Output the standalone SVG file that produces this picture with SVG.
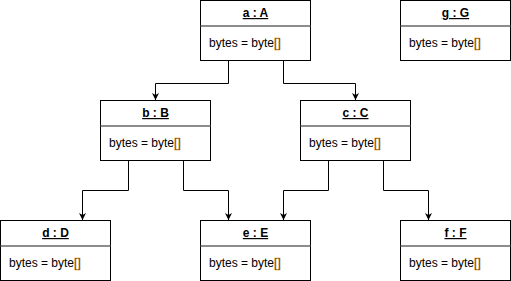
<svg xmlns="http://www.w3.org/2000/svg" width="511" height="281" viewBox="0 0 511 281">
<style>
.box{fill:#fff;stroke:#000;stroke-width:1}
.sep{stroke:#666;stroke-width:1.5}
.hdr{font-family:"Liberation Sans",Arial,sans-serif;font-size:12px;font-weight:bold;text-decoration:underline;text-anchor:middle;fill:#000}
.body{font-family:"Liberation Sans",Arial,sans-serif;font-size:12px;fill:#000}
.br{fill:#3a2200;stroke:#d98a00;stroke-width:0.4}
.edge{fill:none;stroke:#000;stroke-width:1}
</style>
<defs>
<marker id="arr" viewBox="0 0 10 10" refX="10" refY="5" markerWidth="7" markerHeight="7" markerUnits="userSpaceOnUse" orient="auto">
<path d="M0,0 L10,5 L0,10 L3,5 Z" fill="#000"/>
</marker>
</defs>
<g id="connectors">
<path class="edge" d="M228.5,60 V83.5 H155.5 V100" marker-end="url(#arr)"/>
<path class="edge" d="M283.5,60 V83.5 H355.5 V100" marker-end="url(#arr)"/>
<path class="edge" d="M128.5,160 V190.5 H82.5 V220" marker-end="url(#arr)"/>
<path class="edge" d="M183.5,160 V190.5 H228.5 V220" marker-end="url(#arr)"/>
<path class="edge" d="M328.5,160 V190.5 H283.5 V220" marker-end="url(#arr)"/>
<path class="edge" d="M383.5,160 V190.5 H428.5 V220" marker-end="url(#arr)"/>
</g>
<g id="a">
<rect class="box" x="200.5" y="0.5" width="110" height="60"/>
<line class="sep" x1="200.5" y1="26" x2="310.5" y2="26"/>
<text class="hdr" x="255.5" y="17">a : A</text>
<text class="body" x="209" y="47">bytes = byte<tspan class="br">[]</tspan></text>
</g>
<g id="g">
<rect class="box" x="400.5" y="0.5" width="110" height="60"/>
<line class="sep" x1="400.5" y1="26" x2="510.5" y2="26"/>
<text class="hdr" x="455.5" y="17">g : G</text>
<text class="body" x="409" y="47">bytes = byte<tspan class="br">[]</tspan></text>
</g>
<g id="b">
<rect class="box" x="100.5" y="100.5" width="110" height="60"/>
<line class="sep" x1="100.5" y1="126" x2="210.5" y2="126"/>
<text class="hdr" x="155.5" y="117">b : B</text>
<text class="body" x="109" y="147">bytes = byte<tspan class="br">[]</tspan></text>
</g>
<g id="c">
<rect class="box" x="300.5" y="100.5" width="110" height="60"/>
<line class="sep" x1="300.5" y1="126" x2="410.5" y2="126"/>
<text class="hdr" x="355.5" y="117">c : C</text>
<text class="body" x="309" y="147">bytes = byte<tspan class="br">[]</tspan></text>
</g>
<g id="d">
<rect class="box" x="0.5" y="220.5" width="110" height="60"/>
<line class="sep" x1="0.5" y1="246" x2="110.5" y2="246"/>
<text class="hdr" x="55.5" y="237">d : D</text>
<text class="body" x="9" y="267">bytes = byte<tspan class="br">[]</tspan></text>
</g>
<g id="e">
<rect class="box" x="200.5" y="220.5" width="110" height="60"/>
<line class="sep" x1="200.5" y1="246" x2="310.5" y2="246"/>
<text class="hdr" x="255.5" y="237">e : E</text>
<text class="body" x="209" y="267">bytes = byte<tspan class="br">[]</tspan></text>
</g>
<g id="f">
<rect class="box" x="400.5" y="220.5" width="110" height="60"/>
<line class="sep" x1="400.5" y1="246" x2="510.5" y2="246"/>
<text class="hdr" x="455.5" y="237">f : F</text>
<text class="body" x="409" y="267">bytes = byte<tspan class="br">[]</tspan></text>
</g>
</svg>
